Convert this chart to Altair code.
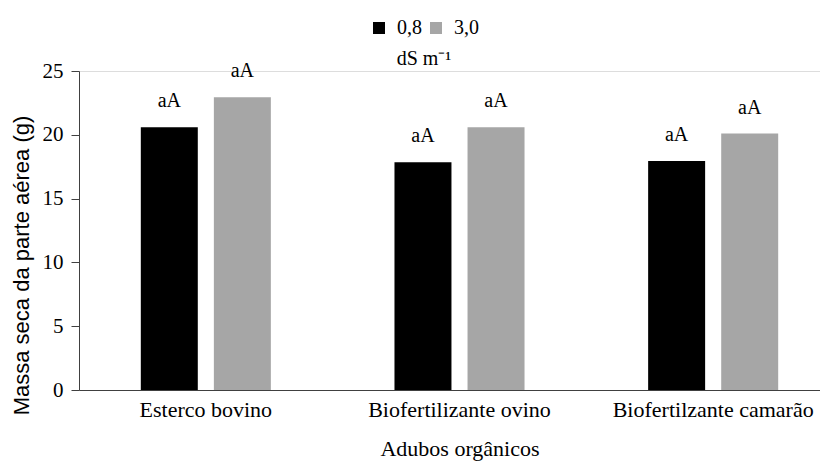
import altair as alt
import pandas as pd

categories = ["Esterco bovino", "Biofertilizante ovino", "Biofertilzante camarão"]
levels = ["0,8", "3,0"]
values_08 = [20.6, 17.85, 17.95]
values_30 = [22.95, 20.6, 20.1]
letters_08 = ["aA", "aA", "aA"]
letters_30 = ["aA", "aA", "aA"]

rows = []
for c, v, l in zip(categories, values_08, letters_08):
    rows.append({"cat": c, "lvl": levels[0], "val": v, "lab": l})
for c, v, l in zip(categories, values_30, letters_30):
    rows.append({"cat": c, "lvl": levels[1], "val": v, "lab": l})
df = pd.DataFrame(rows)

SERIF = "Liberation Serif"
SANS = "Liberation Sans"
AXC = "#404040"

x = alt.X("cat:N", sort=categories,
          scale=alt.Scale(range=[0, 761], paddingInner=0, paddingOuter=0),
          axis=alt.Axis(title="Adubos orgânicos", labelAngle=0, ticks=False,
                        labelPadding=9, titlePadding=18, labelFontSize=22,
                        titleFontSize=22, labelColor="black", titleColor="black",
                        domainColor=AXC, labelFont=SERIF, titleFont=SERIF,
                        titleFontWeight="normal", labelLimit=300))
xo = alt.XOffset("lvl:N", sort=levels,
                 scale=alt.Scale(paddingInner=0.22, paddingOuter=0.846))
y = alt.Y("val:Q", scale=alt.Scale(domain=[0, 25]),
          axis=alt.Axis(title="Massa seca da parte aérea (g)", values=[0, 5, 10, 15, 20, 25],
                        grid=False, tickSize=8, labelPadding=8, labelFontSize=21,
                        titleFontSize=22, labelColor="black", titleColor="black",
                        domainColor=AXC, tickColor=AXC,
                        labelFont=SERIF, titleFont=SANS, titleFontWeight="normal",
                        titleAngle=270, titleBaseline="alphabetic", titleAlign="center",
                        titleX=-51, titleY=194))
color = alt.Color("lvl:N", sort=levels,
                  scale=alt.Scale(domain=levels, range=["#000000", "#a6a6a6"]),
                  legend=alt.Legend(title="dS m⁻¹", orient="none", legendX=290, legendY=-53,
                                    direction="horizontal", titleOrient="bottom",
                                    titleAnchor="middle", symbolType="square",
                                    symbolSize=144, symbolStrokeWidth=0, padding=0,
                                    labelFontSize=20, titleFontSize=20, labelFont=SERIF,
                                    titleFont=SERIF, titleFontWeight="normal",
                                    labelColor="black", titleColor="black",
                                    columnPadding=4, labelOffset=8, titlePadding=11))

base = alt.Chart(df).encode(x=x, xOffset=xo, y=y)
bars = base.mark_bar().encode(color=color)
text = base.mark_text(dy=-20, baseline="alphabetic", fontSize=20, font=SERIF,
                      color="black").encode(text="lab:N")

chart = (bars + text).properties(
    width=741, height=319,
    autosize=alt.AutoSizeParams(type="none"),
    padding={"left": 71, "top": 63, "right": 0, "bottom": 74},
).configure_view(stroke=None).configure(background="white")

chart.save("out.html", embed_options={"renderer": "svg", "actions": False})
